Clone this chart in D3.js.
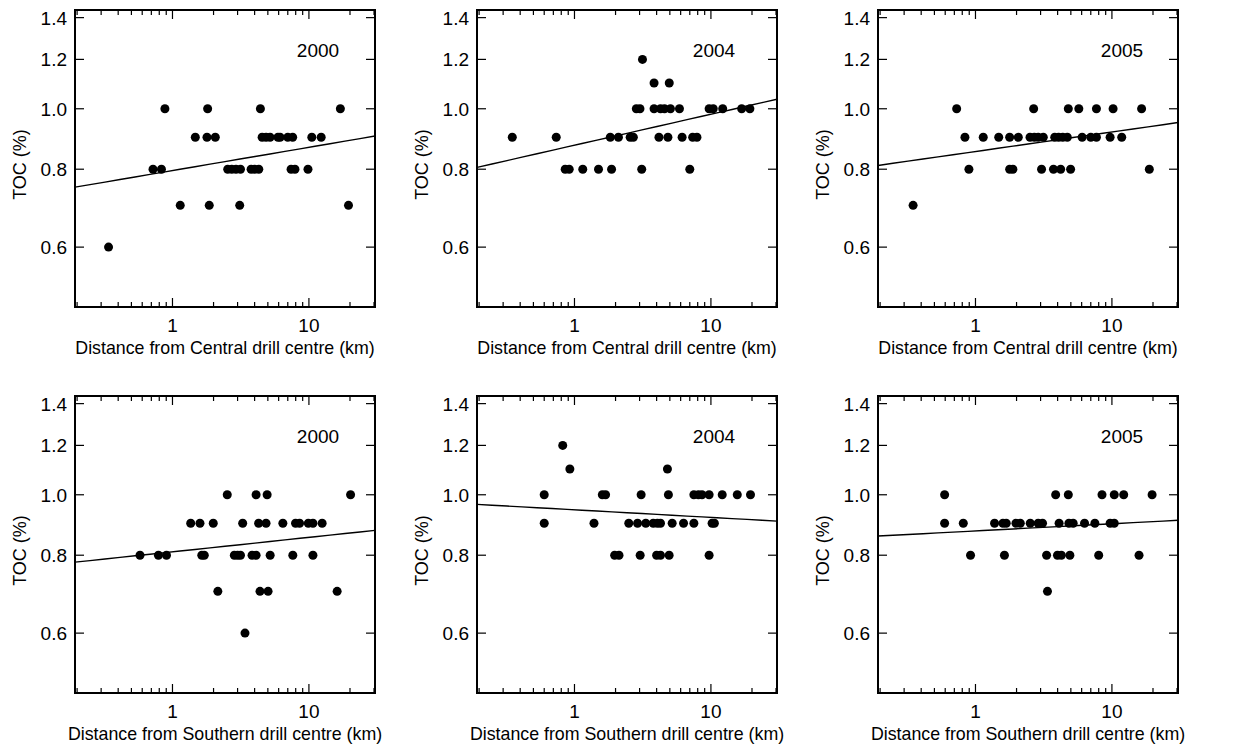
<!DOCTYPE html>
<html>
<head>
<meta charset="utf-8">
<script src="https://cdn.jsdelivr.net/npm/d3@7"></script>
<style>
  body { margin: 0; background: #fff; }
  svg { display: block; font-family: 'Liberation Sans', Arial, sans-serif; }
</style>
</head>
<body>
<div id="chart"></div>
<script>
// distance (km) and TOC (%), one pair of arrays per panel
const central2000Dist = [0.34, 0.72, 0.83, 0.88, 1.14, 1.47, 1.81, 1.79, 2.06, 1.86, 2.54, 2.72, 2.92, 3.15, 3.11, 3.77, 4.0, 4.29, 4.41, 4.54, 4.85, 5.19, 5.93, 6.15, 7.0, 7.6, 7.4, 7.9, 9.84, 10.5, 12.3, 17.0, 19.5];
const central2000Toc = [0.6, 0.8, 0.8, 1.0, 0.7, 0.9, 1.0, 0.9, 0.9, 0.7, 0.8, 0.8, 0.8, 0.8, 0.7, 0.8, 0.8, 0.8, 1.0, 0.9, 0.9, 0.9, 0.9, 0.9, 0.9, 0.9, 0.8, 0.8, 0.8, 0.9, 0.9, 1.0, 0.7];

const central2004Dist = [0.35, 0.735, 0.855, 0.915, 1.15, 1.5, 1.87, 1.83, 2.1, 2.56, 2.7, 2.84, 3.02, 3.15, 3.11, 3.83, 3.83, 4.16, 4.27, 4.57, 5.05, 4.95, 4.84, 5.88, 6.15, 7.0, 7.35, 7.9, 9.7, 10.4, 12.2, 16.8, 19.3];
const central2004Toc = [0.9, 0.9, 0.8, 0.8, 0.8, 0.8, 0.8, 0.9, 0.9, 0.9, 0.9, 1.0, 1.0, 1.2, 0.8, 1.1, 1.0, 0.9, 1.0, 1.0, 1.0, 1.1, 0.9, 1.0, 0.9, 0.8, 0.9, 0.9, 1.0, 1.0, 1.0, 1.0, 1.0];

const central2005Dist = [0.349, 0.728, 0.837, 0.895, 1.14, 1.48, 1.78, 1.78, 1.88, 2.06, 2.67, 2.51, 2.7, 2.88, 3.14, 3.05, 3.73, 4.21, 3.81, 4.07, 4.36, 4.71, 4.98, 4.79, 5.72, 6.05, 7.0, 7.7, 7.7, 10.2, 9.7, 11.8, 16.5, 18.8];
const central2005Toc = [0.7, 1.0, 0.9, 0.8, 0.9, 0.9, 0.9, 0.8, 0.8, 0.9, 1.0, 0.9, 0.9, 0.9, 0.9, 0.8, 0.8, 0.8, 0.9, 0.9, 0.9, 0.9, 0.8, 1.0, 1.0, 0.9, 0.9, 0.9, 1.0, 1.0, 0.9, 0.9, 1.0, 0.8];

const southern2000Dist = [0.578, 0.789, 0.904, 1.36, 1.59, 1.64, 1.71, 1.99, 2.15, 2.52, 2.84, 3.0, 3.15, 3.27, 3.4, 3.83, 4.1, 4.1, 4.28, 4.85, 4.38, 5.02, 4.94, 5.2, 6.44, 7.62, 7.98, 8.54, 9.9, 10.7, 10.7, 12.5, 16.1, 20.2];
const southern2000Toc = [0.8, 0.8, 0.8, 0.9, 0.9, 0.8, 0.8, 0.9, 0.7, 1.0, 0.8, 0.8, 0.8, 0.9, 0.6, 0.8, 0.8, 1.0, 0.9, 0.9, 0.7, 0.7, 1.0, 0.8, 0.9, 0.8, 0.9, 0.9, 0.9, 0.9, 0.8, 0.9, 0.7, 1.0];

const southern2004Dist = [0.6, 0.6, 0.82, 0.925, 1.39, 1.6, 1.69, 1.97, 2.12, 2.5, 2.9, 3.03, 3.08, 3.33, 3.78, 4.05, 4.27, 4.0, 4.27, 4.8, 4.88, 4.94, 5.2, 6.3, 7.5, 7.5, 8.1, 8.6, 9.7, 9.7, 10.2, 10.6, 12.1, 15.6, 19.5];
const southern2004Toc = [1.0, 0.9, 1.2, 1.1, 0.9, 1.0, 1.0, 0.8, 0.8, 0.9, 0.9, 0.8, 1.0, 0.9, 0.9, 0.9, 0.9, 0.8, 0.8, 1.1, 1.0, 0.8, 0.9, 0.9, 0.9, 1.0, 1.0, 1.0, 1.0, 0.8, 0.9, 0.9, 1.0, 1.0, 1.0];

const southern2005Dist = [0.594, 0.594, 0.814, 0.92, 1.38, 1.59, 1.68, 1.63, 1.98, 2.13, 2.52, 2.88, 3.1, 3.32, 3.37, 3.87, 4.1, 4.84, 5.2, 3.99, 4.26, 4.92, 4.79, 6.3, 7.5, 8.0, 8.46, 9.7, 10.4, 10.4, 12.2, 15.8, 19.7];
const southern2005Toc = [1.0, 0.9, 0.9, 0.8, 0.9, 0.9, 0.9, 0.8, 0.9, 0.9, 0.9, 0.9, 0.9, 0.8, 0.7, 1.0, 0.9, 0.9, 0.9, 0.8, 0.8, 0.8, 1.0, 0.9, 0.9, 0.8, 1.0, 0.9, 0.9, 1.0, 1.0, 0.8, 1.0];

// power-law fits TOC = a * dist^b, in panel order
const fitA = [0.796, 0.874, 0.854, 0.810, 0.946, 0.875];
const fitB = [0.0373, 0.0497, 0.0313, 0.0232, -0.0122, 0.0115];

const years = ['2000', '2004', '2005', '2000', '2004', '2005'];
const centres = ['Central', 'Southern'];

const xMajorTicks = [1, 10];
const xMinorTicks = [0.2, 0.3, 0.4, 0.5, 0.6, 0.7, 0.8, 0.9, 2, 3, 4, 5, 6, 7, 8, 9, 20, 30];
const yTicks = [0.6, 0.8, 1.0, 1.2, 1.4];

const X_DOMAIN = [0.193, 30.5];
const Y_DOMAIN = [0.481, 1.44];

const WIDTH = 1251;
const HEIGHT = 747;
const PANEL_LEFTS = [75, 477, 878];
const PANEL_TOPS = [10, 396];
const PANEL_WIDTH = 300;
const PANEL_HEIGHT = 297;
const YEAR_LABEL_X = [243, 237, 244];
const MAJOR_TICK = 9;
const MINOR_TICK = 5;
const DOT_RADIUS = 4.5;

const panelData = [
  [central2000Dist, central2000Toc],
  [central2004Dist, central2004Toc],
  [central2005Dist, central2005Toc],
  [southern2000Dist, southern2000Toc],
  [southern2004Dist, southern2004Toc],
  [southern2005Dist, southern2005Toc],
];

const svg = d3
  .select('#chart')
  .append('svg')
  .attr('width', WIDTH)
  .attr('height', HEIGHT)
  .attr('viewBox', [0, 0, WIDTH, HEIGHT]);

svg.append('rect').attr('width', WIDTH).attr('height', HEIGHT).attr('fill', '#fff');

panelData.forEach(([dist, toc], i) => {
  const row = Math.floor(i / 3);
  const col = i % 3;
  drawPanel(i, dist, toc, PANEL_LEFTS[col], PANEL_TOPS[row], centres[row], col);
});

function drawPanel(idx, dist, toc, left, top, centre, col) {
  const x = d3.scaleLog().domain(X_DOMAIN).range([0, PANEL_WIDTH]);
  const y = d3.scaleLog().domain(Y_DOMAIN).range([PANEL_HEIGHT, 0]);

  const g = svg.append('g').attr('transform', `translate(${left},${top})`);
  const clipId = `clip-${idx}`;
  g.append('clipPath').attr('id', clipId).append('rect').attr('width', PANEL_WIDTH).attr('height', PANEL_HEIGHT);

  // fit line
  const fitX = d3.range(0, 21).map((k) => X_DOMAIN[0] * Math.pow(X_DOMAIN[1] / X_DOMAIN[0], k / 20));
  g.append('path')
    .attr('clip-path', `url(#${clipId})`)
    .attr('d', d3.line().x((d) => x(d)).y((d) => y(fitA[idx] * Math.pow(d, fitB[idx])))(fitX))
    .attr('fill', 'none')
    .attr('stroke', '#000')
    .attr('stroke-width', 1.4);

  // points
  g.selectAll('circle.pt')
    .data(dist.map((d, k) => [d, toc[k]]))
    .join('circle')
    .attr('class', 'pt')
    .attr('cx', (d) => x(d[0]))
    .attr('cy', (d) => y(d[1]))
    .attr('r', DOT_RADIUS)
    .attr('fill', '#000');

  // ticks, all pointing inward
  const tickGroup = g.append('g').attr('stroke', '#000').attr('stroke-width', 1.2);
  const xTickList = xMajorTicks.map((v) => [v, MAJOR_TICK]).concat(xMinorTicks.map((v) => [v, MINOR_TICK]));
  xTickList
    .filter(([v]) => v > X_DOMAIN[0] && v < X_DOMAIN[1])
    .forEach(([v, len]) => {
      tickGroup.append('line').attr('x1', x(v)).attr('x2', x(v)).attr('y1', PANEL_HEIGHT).attr('y2', PANEL_HEIGHT - len);
      tickGroup.append('line').attr('x1', x(v)).attr('x2', x(v)).attr('y1', 0).attr('y2', len);
    });
  yTicks.forEach((v) => {
    tickGroup.append('line').attr('x1', 0).attr('x2', MAJOR_TICK).attr('y1', y(v)).attr('y2', y(v));
    tickGroup.append('line').attr('x1', PANEL_WIDTH).attr('x2', PANEL_WIDTH - MAJOR_TICK).attr('y1', y(v)).attr('y2', y(v));
  });

  // frame
  g.append('rect')
    .attr('width', PANEL_WIDTH)
    .attr('height', PANEL_HEIGHT)
    .attr('fill', 'none')
    .attr('stroke', '#000')
    .attr('stroke-width', 2);

  // tick labels
  xMajorTicks.forEach((v) => {
    g.append('text')
      .attr('x', x(v))
      .attr('y', PANEL_HEIGHT + 25)
      .attr('text-anchor', 'middle')
      .attr('font-size', '19px')
      .text(v);
  });
  yTicks.forEach((v) => {
    g.append('text')
      .attr('x', -8)
      .attr('y', y(v) + 7)
      .attr('text-anchor', 'end')
      .attr('font-size', '19px')
      .text(d3.format('.1f')(v));
  });

  // axis titles
  g.append('text')
    .attr('x', PANEL_WIDTH / 2)
    .attr('y', PANEL_HEIGHT + 47)
    .attr('text-anchor', 'middle')
    .attr('font-size', '17.8px')
    .text(`Distance from ${centre} drill centre (km)`);
  g.append('text')
    .attr('transform', `translate(-49,${PANEL_HEIGHT / 2 + 6}) rotate(-90)`)
    .attr('text-anchor', 'middle')
    .attr('font-size', '18px')
    .text('TOC (%)');

  // year label
  g.append('text')
    .attr('x', YEAR_LABEL_X[col])
    .attr('y', 47)
    .attr('text-anchor', 'middle')
    .attr('font-size', '19px')
    .text(years[idx]);
}
</script>
</body>
</html>
